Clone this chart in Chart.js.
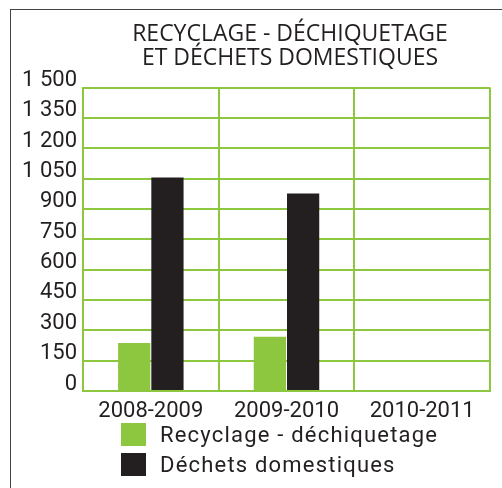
<!DOCTYPE html>
<html>
<head>
<meta charset="utf-8">
<script src="https://cdn.jsdelivr.net/npm/chart.js@4"></script>
<style>
  html, body { margin: 0; padding: 0; background: #fff; }
  #wrap { position: relative; width: 502px; height: 488px; overflow: hidden; }
  #frame { position: absolute; left: 10px; top: 9px; width: 600px; height: 600px;
           border-left: 1px solid #444; border-top: 1px solid #444; }
  #legend { position: absolute; left: 121px; top: 423px; font-family: Roboto, "Liberation Sans", sans-serif;
            font-size: 22px; color: #231f20; letter-spacing: 1.2px; }
  .item { display: flex; align-items: center; height: 23px; margin-bottom: 7px; }
  .box { width: 25px; height: 23px; margin-right: 14px; }
</style>
</head>
<body>
<div id="wrap">
  <div id="frame"></div>
  <canvas id="c" width="502" height="488"></canvas>
  <div id="legend"></div>
</div>
<script>
const titleLines = ['RECYCLAGE - DÉCHIQUETAGE', 'ET DÉCHETS DOMESTIQUES'];
const categories = ['2008-2009', '2009-2010', '2010-2011'];
const seriesNames = ['Recyclage - déchiquetage', 'Déchets domestiques'];
const recyclage = [237, 268, null];
const dechets = [1055, 976, null];
const yTickLabels = ['0', '150', '300', '450', '600', '750', '900', '1 050', '1 200', '1 350', '1 500'];
const seriesColors = ['#8dc63f', '#231f20'];

const GRID = '#8dc63f';
const TEXT = '#231f20';

const shiftTitle = {
  id: 'shiftTitle',
  afterLayout(chart) {
    if (chart.titleBlock) {
      chart.titleBlock.left = 90;
    }
  }
};

const chart = new Chart(document.getElementById('c'), {
  type: 'bar',
  data: {
    labels: categories,
    datasets: [
      { label: seriesNames[0], data: recyclage, backgroundColor: seriesColors[0] },
      { label: seriesNames[1], data: dechets, backgroundColor: seriesColors[1] }
    ]
  },
  plugins: [shiftTitle],
  options: {
    responsive: false,
    animation: false,
    layout: { padding: { left: 0, right: 12, top: 10, bottom: 67 } },
    datasets: { bar: { categoryPercentage: 0.49, barPercentage: 0.97 } },
    plugins: {
      legend: { display: false },
      tooltip: { enabled: false },
      title: {
        display: true,
        text: titleLines,
        color: TEXT,
        font: { family: '"Open Sans", sans-serif', size: 23, weight: 'normal', lineHeight: 1.056 },
        padding: { top: 12, bottom: 17 }
      }
    },
    scales: {
      x: {
        grid: { color: GRID, lineWidth: 2, drawTicks: false, offset: true },
        border: { color: GRID, width: 2 },
        ticks: { color: TEXT, padding: 7, font: { family: 'Roboto, sans-serif', size: 22 } },
        afterFit(axis) { axis.height = 30; }
      },
      y: {
        min: 0, max: 1500,
        grid: { color: GRID, lineWidth: 2, drawTicks: false },
        border: { color: GRID, width: 2 },
        ticks: {
          stepSize: 150,
          padding: 6,
          labelOffset: -7,
          color: TEXT,
          font: { family: 'Roboto, sans-serif', size: 22 },
          callback: (v, i) => yTickLabels[i]
        },
        afterFit(axis) { axis.width = 83; }
      }
    }
  }
});

const legendEl = document.getElementById('legend');
chart.data.datasets.forEach(ds => {
  const item = document.createElement('div');
  item.className = 'item';
  const box = document.createElement('span');
  box.className = 'box';
  box.style.background = ds.backgroundColor;
  const txt = document.createElement('span');
  txt.textContent = ds.label;
  item.appendChild(box);
  item.appendChild(txt);
  legendEl.appendChild(item);
});
</script>
</body>
</html>
